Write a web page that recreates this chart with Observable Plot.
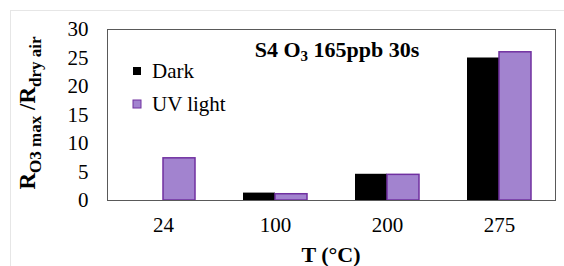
<!DOCTYPE html>
<html><head><meta charset="utf-8">
<script src="https://cdn.jsdelivr.net/npm/d3@7"></script>
<script src="https://cdn.jsdelivr.net/npm/@observablehq/plot@0.6"></script>
<style>
body{margin:0;background:#fff;}
#wrap{position:relative;width:564px;height:266px;overflow:hidden;background:#fff;}
#border{position:absolute;left:10px;top:10px;width:700px;height:400px;border-left:1.5px solid #e6e6e6;border-top:1.5px solid #e6e6e6;}
#chart{position:absolute;left:0;top:0;}
#chart svg, #chart svg text{font-family:"Liberation Serif","Times New Roman",serif !important;}
</style></head><body><div id="wrap"><div id="border"></div><div id="chart"></div></div>
<script>
const temperatures = ["24", "100", "200", "275"];
const seriesNames = ["Dark", "UV light"];
const darkValues = [0, 1.3, 4.6, 25.0];
const uvValues = [7.4, 1.1, 4.5, 26.0];
const yTicks = [0, 5, 10, 15, 20, 25, 30];
const titleParts = ["S4 O", "3", " 165ppb 30s"];
const xTitle = "T (°C)";
const yTitleParts = ["R", "O3 max", " /R", "dry air"];

const darkData = temperatures.map((t, i) => ({T: t, series: seriesNames[0], value: darkValues[i]}));
const uvData = temperatures.map((t, i) => ({T: t, series: seriesNames[1], value: uvValues[i]}));

const FONT = "\"Liberation Serif\", \"Times New Roman\", serif";
const chart = Plot.plot({
  width: 564, height: 266,
  marginLeft: 107, marginRight: 9, marginTop: 29, marginBottom: 66,
  style: {fontFamily: FONT, fontSize: "21px", color: "#000", background: "transparent", overflow: "visible"},
  x: {domain: temperatures, padding: 0, tickSize: 0, tickPadding: 17, label: null},
  y: {domain: [0, 30], ticks: yTicks, tickSize: 0, tickPadding: 19, label: null},
  marks: [
    Plot.barY(darkData, {x: "T", y: "value", fill: "#000", insetLeft: 24, insetRight: 56}),
    Plot.barY(uvData, {x: "T", y: "value", fill: "#a283cf", stroke: "#7030a0", strokeWidth: 1.5, insetLeft: 56, insetRight: 24}),
    Plot.frame({stroke: "#595959", strokeWidth: 1})
  ]
});
document.getElementById("chart").appendChild(chart);

const svg = d3.select(chart);
function txt(sel) {
  return sel.style("font-family", FONT).attr("fill", "#000");
}
// Title
const t = txt(svg.append("text")).attr("x", 337).attr("y", 57).style("text-anchor", "middle")
  .style("font-weight", "bold").style("font-size", "22px");
t.append("tspan").text(titleParts[0]);
t.append("tspan").style("font-size", "15px").attr("dy", 4).text(titleParts[1]);
t.append("tspan").attr("dy", -4).text(titleParts[2]);

// Legend
const legend = [
  {name: seriesNames[0], y: 71, fill: "#000", stroke: "none"},
  {name: seriesNames[1], y: 104, fill: "#a283cf", stroke: "#7030a0"}
];
legend.forEach(l => {
  svg.append("rect").attr("x", 133).attr("y", l.y - 4).attr("width", 8).attr("height", 8)
    .attr("fill", l.fill).attr("stroke", l.stroke).attr("stroke-width", 1);
  txt(svg.append("text")).attr("x", 152).attr("y", l.y).attr("dy", "0.35em")
    .style("text-anchor", "start").style("font-size", "21px").text(l.name);
});

// X title
txt(svg.append("text")).attr("x", 331).attr("y", 262).style("text-anchor", "middle")
  .style("font-weight", "bold").style("font-size", "22px").text(xTitle);

// Y title
const yt = txt(svg.append("text")).attr("transform", "translate(35,113) rotate(-90)").style("text-anchor", "middle")
  .style("font-weight", "bold").style("font-size", "23px");
yt.append("tspan").text(yTitleParts[0]);
yt.append("tspan").style("font-size", "17px").attr("dy", 6).text(yTitleParts[1]);
yt.append("tspan").attr("dy", -6).text(yTitleParts[2]);
yt.append("tspan").style("font-size", "17px").attr("dy", 6).text(yTitleParts[3]);
</script>
</body></html>
